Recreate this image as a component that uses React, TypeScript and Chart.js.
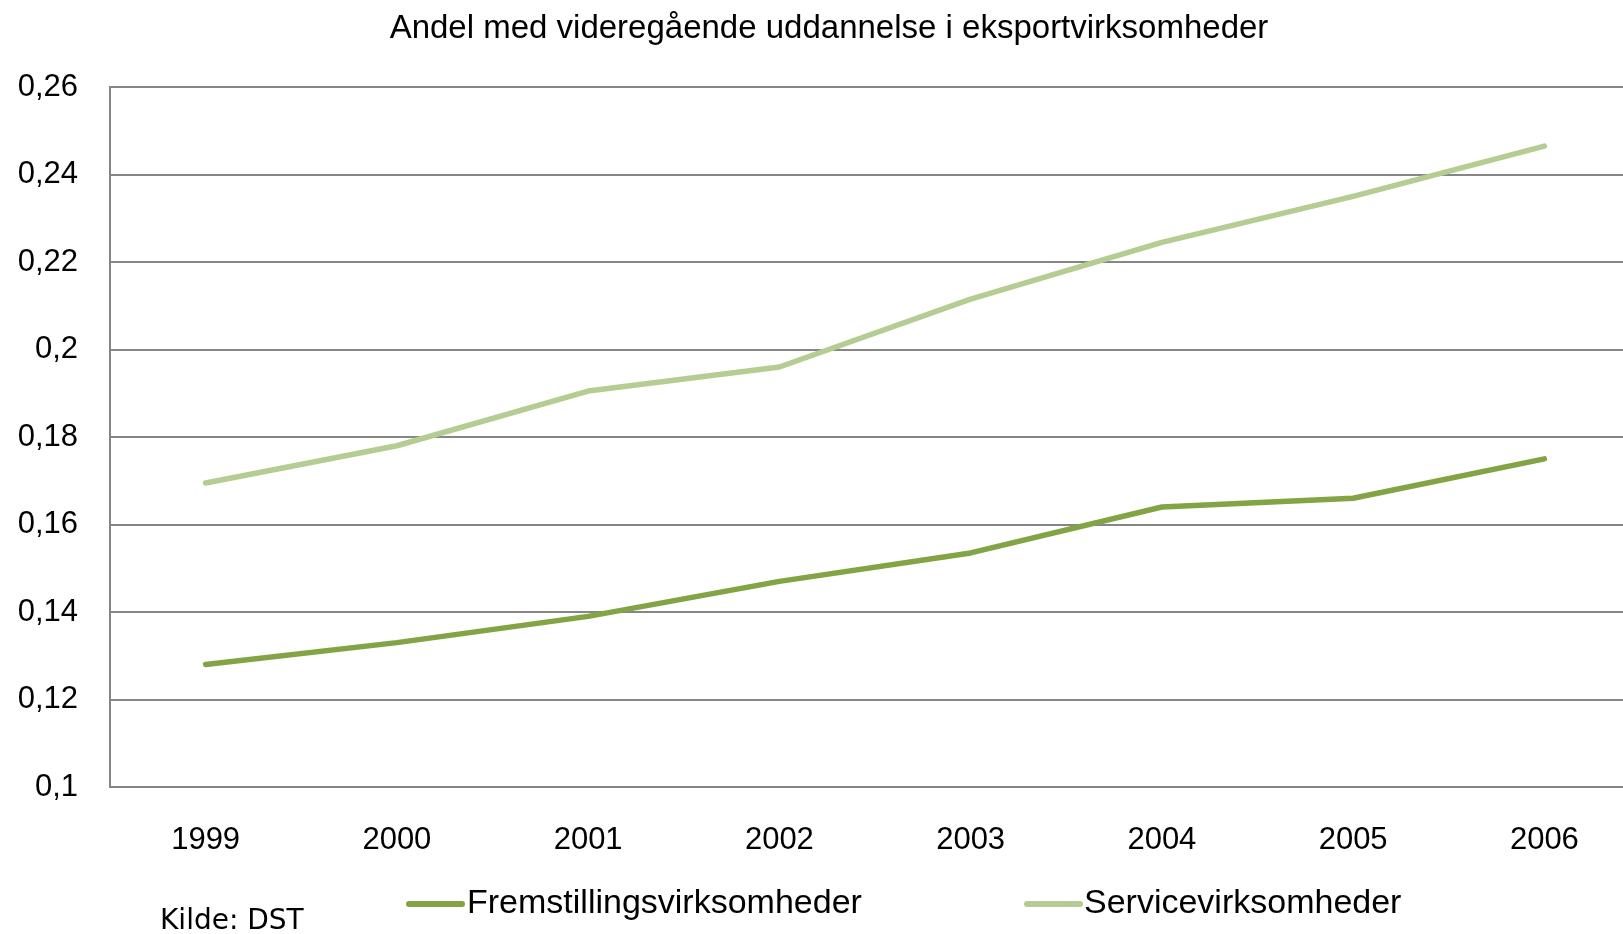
import React, { useEffect, useRef } from "react";
import { Chart, registerables } from "chart.js";

Chart.register(...registerables);

const titleText = "Andel med videregående uddannelse i eksportvirksomheder";
const sourceText = "Kilde: DST";
const years = ["1999", "2000", "2001", "2002", "2003", "2004", "2005", "2006"];
const seriesNames = ["Fremstillingsvirksomheder", "Servicevirksomheder"];
const fremstilling = [0.128, 0.133, 0.139, 0.147, 0.1535, 0.164, 0.166, 0.175];
const service = [0.1695, 0.178, 0.1905, 0.196, 0.2115, 0.2245, 0.235, 0.2465];
const seriesColors = ["#82A444", "#B5CD93"];
const yMin = 0.1;
const yMax = 0.26;
const yStep = 0.02;

const W = 1640;
const H = 934;

const decorPlugin = {
  id: "decor",
  afterDraw(chart: any) {
    const ctx = chart.ctx;
    ctx.save();
    // title
    ctx.fillStyle = "#000";
    ctx.font = "33px 'Liberation Sans', Arial, sans-serif";
    ctx.textAlign = "center";
    ctx.textBaseline = "middle";
    ctx.fillText(titleText, 829, 29);

    // legend
    const items = [
      { x1: 409, x2: 462, tx: 467 },
      { x1: 1027, x2: 1080, tx: 1084 },
    ];
    const ly = 904;
    seriesNames.forEach((name, i) => {
      const it = items[i];
      ctx.strokeStyle = seriesColors[i];
      ctx.lineWidth = 6;
      ctx.lineCap = "round";
      ctx.beginPath();
      ctx.moveTo(it.x1, ly);
      ctx.lineTo(it.x2, ly);
      ctx.stroke();
      ctx.fillStyle = "#000";
      ctx.font = "34px 'Liberation Sans', Arial, sans-serif";
      ctx.textAlign = "left";
      ctx.textBaseline = "middle";
      ctx.fillText(name, it.tx, ly);
    });

    // source
    ctx.font = "28px 'DejaVu Sans', Verdana, sans-serif";
    ctx.textAlign = "left";
    ctx.textBaseline = "middle";
    ctx.fillStyle = "#000";
    ctx.fillText(sourceText, 160, 922);
    ctx.restore();
  },
};

export default function App() {
  const ref = useRef<HTMLCanvasElement | null>(null);

  useEffect(() => {
    if (!ref.current) return;
    document.documentElement.style.overflow = "hidden";
    const chart = new Chart(ref.current, {
      type: "line",
      data: {
        labels: years,
        datasets: [
          {
            label: seriesNames[0],
            data: fremstilling,
            borderColor: seriesColors[0],
            backgroundColor: seriesColors[0],
            borderWidth: 5.5,
            pointRadius: 0,
            tension: 0,
            borderCapStyle: "round",
            borderJoinStyle: "round",
          },
          {
            label: seriesNames[1],
            data: service,
            borderColor: seriesColors[1],
            backgroundColor: seriesColors[1],
            borderWidth: 5.5,
            pointRadius: 0,
            tension: 0,
            borderCapStyle: "round",
            borderJoinStyle: "round",
          },
        ],
      },
      options: {
        animation: false,
        responsive: false,
        devicePixelRatio: 1,
        layout: { padding: { top: 87, left: 0, right: 0, bottom: 0 } },
        plugins: {
          legend: { display: false },
          title: { display: false },
          tooltip: { enabled: false },
        },
        scales: {
          x: {
            type: "category",
            offset: true,
            grid: { display: false, drawTicks: false },
            border: { display: true, color: "#868686", width: 2 },
            ticks: {
              color: "#000",
              padding: 35,
              font: { family: "'Liberation Sans', Arial, sans-serif", size: 31 },
              maxRotation: 0,
              autoSkip: false,
            },
            afterFit: (axis: any) => {
              axis.height = H - 787;
            },
          },
          y: {
            min: yMin,
            max: yMax,
            grid: { color: "#868686", lineWidth: 2, drawTicks: false },
            border: { display: true, color: "#868686", width: 2 },
            ticks: {
              stepSize: yStep,
              color: "#000",
              padding: 32,
              font: { family: "'Liberation Sans', Arial, sans-serif", size: 31 },
              callback: (v: any) =>
                String(Number(Number(v).toFixed(2))).replace(".", ","),
            },
            afterFit: (axis: any) => {
              axis.width = 110;
            },
          },
        },
      },
      plugins: [decorPlugin],
    });
    return () => chart.destroy();
  }, []);

  return (
    <div
      style={{
        position: "fixed",
        left: 0,
        top: 0,
        width: W,
        height: H,
        background: "#fff",
      }}
    >
      <canvas ref={ref} width={W} height={H} style={{ width: W, height: H, display: "block" }} />
    </div>
  );
}
